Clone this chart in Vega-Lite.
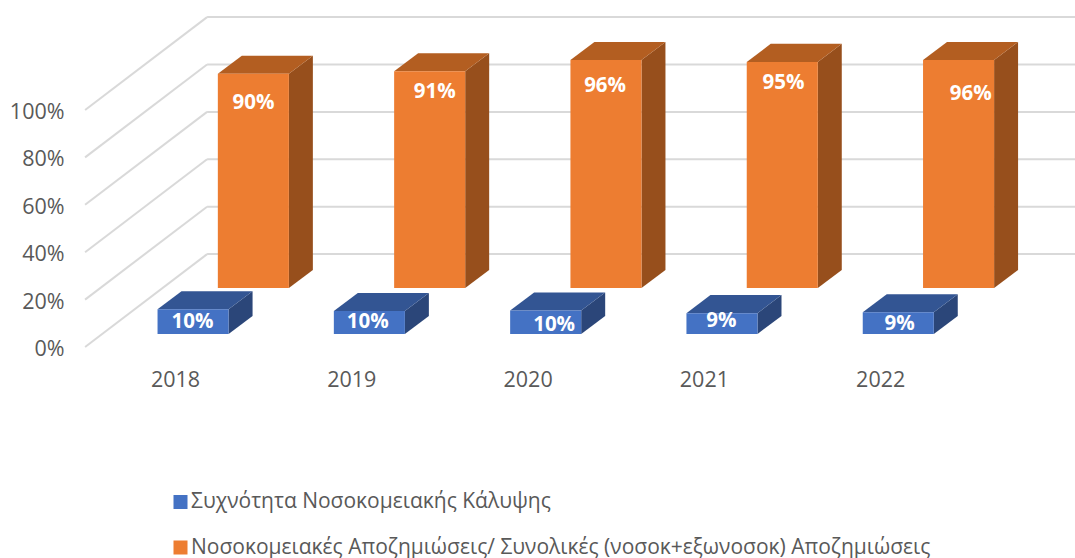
{
"$schema":"https://vega.github.io/schema/vega-lite/v6.json",
"width":1003,"height":366,
"autosize":{"type":"none"},
"padding":{"left":72,"top":0,"right":0,"bottom":192},
"background":"white",
"datasets":{
"bars":[
{"year":2018,"series":"Συχνότητα Νοσοκομειακής Κάλυψης","value":0.104},
{"year":2019,"series":"Συχνότητα Νοσοκομειακής Κάλυψης","value":0.097},
{"year":2020,"series":"Συχνότητα Νοσοκομειακής Κάλυψης","value":0.099},
{"year":2021,"series":"Συχνότητα Νοσοκομειακής Κάλυψης","value":0.088},
{"year":2022,"series":"Συχνότητα Νοσοκομειακής Κάλυψης","value":0.092},
{"year":2018,"series":"Νοσοκομειακές Αποζημιώσεις/ Συνολικές (νοσοκ+εξωνοσοκ) Αποζημιώσεις","value":0.904},
{"year":2019,"series":"Νοσοκομειακές Αποζημιώσεις/ Συνολικές (νοσοκ+εξωνοσοκ) Αποζημιώσεις","value":0.914},
{"year":2020,"series":"Νοσοκομειακές Αποζημιώσεις/ Συνολικές (νοσοκ+εξωνοσοκ) Αποζημιώσεις","value":0.962},
{"year":2021,"series":"Νοσοκομειακές Αποζημιώσεις/ Συνολικές (νοσοκ+εξωνοσοκ) Αποζημιώσεις","value":0.954},
{"year":2022,"series":"Νοσοκομειακές Αποζημιώσεις/ Συνολικές (νοσοκ+εξωνοσοκ) Αποζημιώσεις","value":0.962}
],
"ticks":[{"tick":0},{"tick":0.2},{"tick":0.4},{"tick":0.6},{"tick":0.8},{"tick":1}]
},
"config":{
"view":{"stroke":null},
"font":"Open Sans",
"axis":{"domain":false,"ticks":false,"grid":false,"title":null,"labelColor":"#595959","labelFontSize":21.5,"labelFont":"Open Sans","labelOverlap":false,"labelBound":false,"labelFlush":false}
},
"layer":[
{
"data":{"name":"ticks"},
"transform":[
{"calculate":"2017.49","as":"gx0"},{"calculate":"2018.182","as":"gx1"},
{"calculate":"datum.tick+0.392","as":"gy1"}],
"mark":{"type":"rule","color":"#D9D9D9","strokeWidth":2},
"encoding":{
"x":{"field":"gx0","type":"quantitative","scale":{"domain":[2017.4158,2023.1049],"nice":false,"zero":false},"axis":{"values":[2018,2019,2020,2021,2022],"format":"d","labelPadding":3}},
"x2":{"field":"gx1"},
"y":{"field":"tick","type":"quantitative","scale":{"domain":[-0.0802,1.4641],"nice":false,"zero":false},"axis":{"values":[0,0.2,0.4,0.6,0.8,1],"format":".0%","labelPadding":8,"labelOffset":2.5}},
"y2":{"field":"gy1"}
}
},
{
"data":{"name":"ticks"},
"transform":[
{"calculate":"2018.182","as":"gx1"},{"calculate":"2023.1049","as":"gx2"},
{"calculate":"datum.tick+0.392","as":"gy1"}],
"mark":{"type":"rule","color":"#D9D9D9","strokeWidth":2},
"encoding":{
"x":{"field":"gx1","type":"quantitative"},
"x2":{"field":"gx2"},
"y":{"field":"gy1","type":"quantitative"}
}
},
{
"data":{"name":"bars"},
"transform":[
{"calculate":"test(/^Συχν/,datum.series)?0.0549:0.249","as":"base"},
{"calculate":"datum.year+(test(/^Συχν/,datum.series)?-0.099:0.243)","as":"left"},
{"calculate":"[0,1]","as":"t"},{"flatten":["t"]},
{"calculate":"datum.left+0.403+datum.t*0.136","as":"sx"},
{"calculate":"datum.base+datum.t*0.076","as":"sy0"},
{"calculate":"datum.base+datum.value+datum.t*0.076","as":"sy1"}],
"mark":{"type":"area","orient":"vertical"},
"encoding":{
"x":{"field":"sx","type":"quantitative"},
"y":{"field":"sy1","type":"quantitative","stack":null},
"y2":{"field":"sy0"},
"detail":{"field":"year"},
"color":{"field":"series","type":"nominal","legend":null,"scale":{"domain":["Συχνότητα Νοσοκομειακής Κάλυψης","Νοσοκομειακές Αποζημιώσεις/ Συνολικές (νοσοκ+εξωνοσοκ) Αποζημιώσεις"],"range":["#2B4679","#974F1C"]}}
}
},
{
"data":{"name":"bars"},
"transform":[
{"calculate":"test(/^Συχν/,datum.series)?0.0549:0.249","as":"base"},
{"calculate":"datum.year+(test(/^Συχν/,datum.series)?-0.099:0.243)","as":"left"},
{"calculate":"[0,1]","as":"t"},{"flatten":["t"]},
{"calculate":"datum.left+datum.t*0.136","as":"tx0"},
{"calculate":"datum.left+0.403+datum.t*0.136","as":"tx1"},
{"calculate":"datum.base+datum.value+datum.t*0.076","as":"ty"}],
"mark":{"type":"area","orient":"horizontal"},
"encoding":{
"y":{"field":"ty","type":"quantitative"},
"x":{"field":"tx0","type":"quantitative","stack":null},
"x2":{"field":"tx1"},
"detail":{"field":"year"},
"color":{"field":"series","type":"nominal","legend":null,"scale":{"domain":["Συχνότητα Νοσοκομειακής Κάλυψης","Νοσοκομειακές Αποζημιώσεις/ Συνολικές (νοσοκ+εξωνοσοκ) Αποζημιώσεις"],"range":["#335593","#B35E21"]}}
}
},
{
"data":{"name":"bars"},
"transform":[
{"calculate":"test(/^Συχν/,datum.series)?0.0549:0.249","as":"base"},
{"calculate":"datum.year+(test(/^Συχν/,datum.series)?-0.099:0.243)","as":"left"},
{"calculate":"datum.left+0.403","as":"right"},
{"calculate":"datum.base+datum.value","as":"top"}],
"mark":{"type":"rect"},
"encoding":{
"x":{"field":"left","type":"quantitative"},
"x2":{"field":"right"},
"y":{"field":"top","type":"quantitative"},
"y2":{"field":"base"},
"color":{"field":"series","type":"nominal","sort":null,
"scale":{"domain":["Συχνότητα Νοσοκομειακής Κάλυψης","Νοσοκομειακές Αποζημιώσεις/ Συνολικές (νοσοκ+εξωνοσοκ) Αποζημιώσεις"],"range":["#4472C4","#ED7D31"]},
"legend":{"title":null,"orient":"none","legendX":98,"legendY":490,"direction":"vertical","symbolType":"square","symbolSize":196,"symbolStrokeWidth":0,"symbolOpacity":1,"labelFontSize":21,"labelFont":"Open Sans","labelColor":"#595959","labelLimit":900,"rowPadding":21.5,"labelOffset":0,"clipHeight":24}}
}
},
{
"data":{"name":"bars"},
"transform":[
{"calculate":"test(/^Συχν/,datum.series)","as":"isBlue"},
{"calculate":"datum.year+(datum.isBlue?-0.102:0.244)+0.2015+(datum.isBlue?[0,-0.006,0.051,0,0.011]:[0,0.028,-0.006,0.006,0.068])[datum.year-2018]","as":"lx"},
{"calculate":"(datum.isBlue?[0.1057,0.1057,0.093,0.11,0.0973]:[1.03,1.076,1.101,1.114,1.068])[datum.year-2018]","as":"ly"}],
"mark":{"type":"text","color":"white","fontWeight":"bold","fontSize":20.5,"font":"Open Sans","baseline":"middle","align":"center"},
"encoding":{
"x":{"field":"lx","type":"quantitative"},
"y":{"field":"ly","type":"quantitative"},
"text":{"field":"value","type":"quantitative","format":".0%"}
}
}
],
"resolve":{"scale":{"color":"independent"}}
}
